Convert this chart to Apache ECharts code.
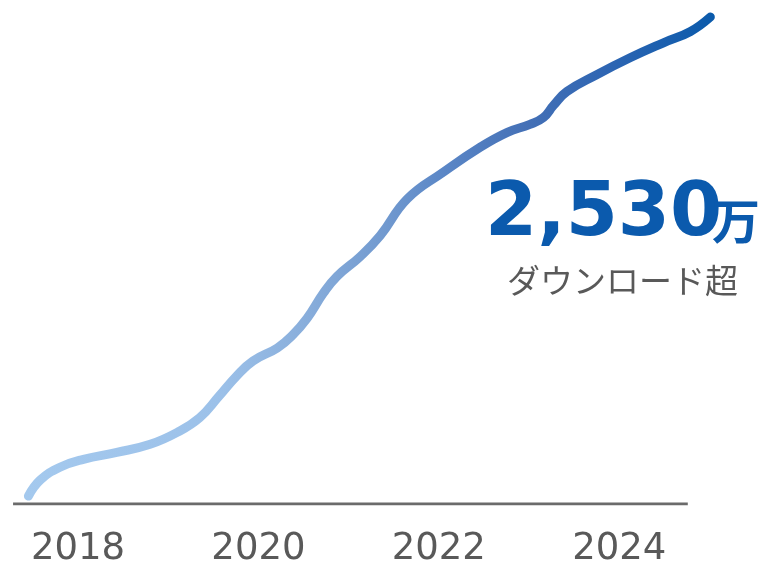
<!DOCTYPE html>
<html>
<head>
<meta charset="utf-8">
<script src="https://cdn.jsdelivr.net/npm/echarts@6/dist/echarts.min.js"></script>
<style>
  html, body {margin: 0; padding: 0; background: #fff;}
  #chart {width: 767px; height: 568px;}
</style>
</head>
<body>
<div id="chart"></div>
<script>
// 累計ダウンロード数（万）: 年 / 値
const years = [
  2017.45, 2017.58, 2017.80, 2018.06, 2018.43, 2018.80, 2019.10, 2019.35,
  2019.56, 2019.76, 2019.94, 2020.21, 2020.38, 2020.54, 2020.72, 2020.87,
  2021.13, 2021.35, 2021.65, 2022.05, 2022.46, 2022.76, 2023.01, 2023.16,
  2023.27, 2023.42, 2023.75, 2024.12, 2024.49, 2024.79, 2025.01,
]
const downloads = [
  41, 124, 191, 232, 268, 310, 372, 449,
  558, 666, 743, 811, 878, 965, 1095, 1182,
  1286, 1394, 1585, 1724, 1854, 1931, 1972, 2008,
  2070, 2143, 2230, 2318, 2396, 2455, 2530,
]
const tickYears = [2018, 2020, 2022, 2024]
const axisSpan = [2017.28, 2024.76]

const totalText = '2,530'
const unitText = '万'
const captionText = 'ダウンロード超'

const myChart = echarts.init(document.getElementById('chart'))

const lineColor = new echarts.graphic.LinearGradient(0, 0, 1, 0, [
  {offset: 0, color: '#a4c9ee'},
  {offset: 0.28, color: '#9cc1e9'},
  {offset: 0.4, color: '#8aafdc'},
  {offset: 0.515, color: '#739bd0'},
  {offset: 0.61, color: '#5a86c6'},
  {offset: 0.73, color: '#4470b6'},
  {offset: 0.84, color: '#2f66b3'},
  {offset: 1, color: '#0a5aab'},
])

const option = {
  animation: false,
  grid: {left: 10.35, right: 35, top: 17, bottom: 61},
  xAxis: {
    type: 'value',
    min: 2017.25,
    max: 2025.25,
    axisLine: {show: false},
    axisTick: {show: false},
    splitLine: {show: false},
    axisLabel: {
      customValues: tickYears,
      formatter: v => String(v),
      fontFamily: 'DejaVu Sans',
      fontSize: 37,
      color: '#595959',
      margin: 27,
    },
  },
  yAxis: {
    type: 'value',
    min: 0,
    max: 2530,
    show: false,
  },
  series: [
    {
      name: 'baseline',
      type: 'line',
      data: axisSpan.map(x => [x, 0]),
      symbol: 'none',
      silent: true,
      z: 1,
      lineStyle: {color: '#6b6b6b', width: 3},
    },
    {
      name: 'downloads',
      type: 'line',
      data: years.map((y, i) => [y, downloads[i]]),
      smooth: 0.45,
      symbol: 'none',
      clip: false,
      z: 3,
      lineStyle: {color: lineColor, width: 9, cap: 'round', join: 'round'},
    },
  ],
  graphic: [
    {
      type: 'text',
      left: 485,
      top: 178,
      style: {
        text: totalText,
        font: 'bold 75px "DejaVu Sans"',
        fill: '#0b5aad',
      },
    },
    {
      type: 'text',
      left: 712,
      top: 197,
      style: {
        text: unitText,
        font: 'bold 48px "Noto Sans CJK JP"',
        fill: '#0b5aad',
      },
    },
    {
      type: 'text',
      left: 507,
      top: 264,
      style: {
        text: captionText,
        font: '33px "Noto Sans CJK JP"',
        fill: '#595959',
      },
    },
  ],
}

myChart.setOption(option)
</script>
</body>
</html>
